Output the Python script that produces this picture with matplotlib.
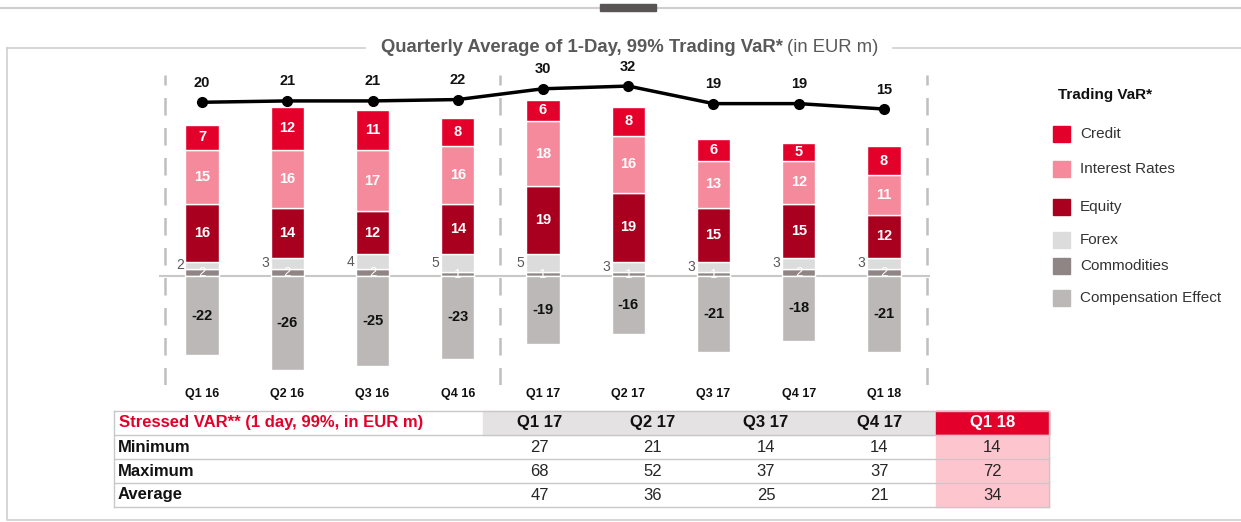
import matplotlib.pyplot as plt
from matplotlib.patches import Rectangle

plt.rcParams['font.family'] = ['Liberation Sans', 'DejaVu Sans']

quarters = ["Q1 16", "Q2 16", "Q3 16", "Q4 16", "Q1 17", "Q2 17", "Q3 17", "Q4 17", "Q1 18"]
commodities = [2, 2, 2, 1, 1, 1, 1, 2, 2]
forex = [2, 3, 4, 5, 5, 3, 3, 3, 3]
equity = [16, 14, 12, 14, 19, 19, 15, 15, 12]
interest = [15, 16, 17, 16, 18, 16, 13, 12, 11]
credit = [7, 12, 11, 8, 6, 8, 6, 5, 8]
compensation = [-22, -26, -25, -23, -19, -16, -21, -18, -21]
total_var = [20, 21, 21, 22, 30, 32, 19, 19, 15]

stress_quarters = ["Q1 17", "Q2 17", "Q3 17", "Q4 17", "Q1 18"]
stress_rows = ["Minimum", "Maximum", "Average"]
stress_min = [27, 21, 14, 14, 14]
stress_max = [68, 52, 37, 37, 72]
stress_avg = [47, 36, 25, 21, 34]

c_credit = "#e3002a"
c_interest = "#f48a9b"
c_equity = "#a8001e"
c_forex = "#dcdcdc"
c_comm = "#8f8585"
c_comp = "#bdb8b8"
c_grid = "#c8c8c8"

W, H = 1241, 522
fig = plt.figure(figsize=(W / 100, H / 100), dpi=100)

# background / frame axes in pixel coordinates
bg = fig.add_axes([0, 0, 1, 1])
bg.set_xlim(0, W)
bg.set_ylim(H, 0)
bg.axis("off")

bg.plot([0, W], [8, 8], color="#cfcfcf", lw=1.5)
bg.add_patch(Rectangle((600, 4), 56, 7, color="#5a5555", zorder=3))
bg.plot([7, 365], [47.5, 47.5], color="#cfcfcf", lw=1.2)
bg.plot([893, W], [47.5, 47.5], color="#cfcfcf", lw=1.2)
bg.plot([7, 7, W], [47.5, 520, 520], color="#cfcfcf", lw=1.2)
bg.text(783, 48, "Quarterly Average of 1-Day, 99% Trading VaR*", ha="right", va="center",
        fontsize=13.3, fontweight="bold", color="#595959")
bg.text(787, 48, "(in EUR m)", ha="left", va="center", fontsize=13.3, color="#595959")

# legend
bg.text(1058, 95, "Trading VaR*", ha="left", va="center", fontsize=11, fontweight="bold", color="#111111")
leg = [("Credit", c_credit, 134), ("Interest Rates", c_interest, 169), ("Equity", c_equity, 207),
       ("Forex", c_forex, 240), ("Commodities", c_comm, 266), ("Compensation Effect", c_comp, 298)]
for name, col, yy in leg:
    bg.add_patch(Rectangle((1053, yy - 8), 17, 16, color=col))
    bg.text(1080, yy, name, ha="left", va="center", fontsize=11, color="#333333")

# stressed VaR table
tx0, tx1 = 114, 1049
col_w = 113.2
cx0 = 483
rows_y = [411, 435, 459, 483, 507]
bg.add_patch(Rectangle((cx0, rows_y[0]), col_w * 4, rows_y[1] - rows_y[0], color="#e4e2e2"))
bg.add_patch(Rectangle((cx0 + col_w * 4, rows_y[0]), col_w, rows_y[1] - rows_y[0], color=c_credit))
bg.add_patch(Rectangle((cx0 + col_w * 4, rows_y[1]), col_w, rows_y[4] - rows_y[1], color="#fdc6cf"))
for yy in rows_y:
    bg.plot([tx0, tx1], [yy, yy], color="#c8c8c8", lw=1)
bg.plot([tx0, tx0], [rows_y[0], rows_y[4]], color="#c8c8c8", lw=1)
bg.plot([tx1, tx1], [rows_y[0], rows_y[4]], color="#c8c8c8", lw=1)

bg.text(119, (rows_y[0] + rows_y[1]) / 2, "Stressed VAR** (1 day, 99%, in EUR m)", ha="left", va="center",
        fontsize=12, fontweight="bold", color=c_credit)
for i, q in enumerate(stress_quarters):
    cx = cx0 + col_w * (i + 0.5)
    bg.text(cx, (rows_y[0] + rows_y[1]) / 2, q, ha="center", va="center", fontsize=12, fontweight="bold",
            color="white" if i == len(stress_quarters) - 1 else "#111111")
for r, (name, vals) in enumerate(zip(stress_rows, [stress_min, stress_max, stress_avg])):
    yc = (rows_y[r + 1] + rows_y[r + 2]) / 2
    bg.text(118, yc, name, ha="left", va="center", fontsize=12, fontweight="bold", color="#111111")
    for i, v in enumerate(vals):
        bg.text(cx0 + col_w * (i + 0.5), yc, str(v), ha="center", va="center", fontsize=12, color="#262626")

# main bar chart
ax = fig.add_axes([159.4 / W, (H - 385) / H, 770.6 / W, 315 / H])
ax.set_facecolor("none")
x = list(range(len(quarters)))
bw = 0.39
ek = dict(edgecolor="white", linewidth=1)

b1 = commodities
b2 = [a + b for a, b in zip(b1, forex)]
b3 = [a + b for a, b in zip(b2, equity)]
b4 = [a + b for a, b in zip(b3, interest)]
ax.bar(x, commodities, bw, color=c_comm, **ek)
ax.bar(x, forex, bw, bottom=b1, color=c_forex, **ek)
ax.bar(x, equity, bw, bottom=b2, color=c_equity, **ek)
ax.bar(x, interest, bw, bottom=b3, color=c_interest, **ek)
ax.bar(x, credit, bw, bottom=b4, color=c_credit, **ek)
ax.bar(x, compensation, bw, color=c_comp, **ek)

for i in x:
    ax.text(i, b2[i] + equity[i] / 2, str(equity[i]), ha="center", va="center", color="white",
            fontsize=10.5, fontweight="bold")
    ax.text(i, b3[i] + interest[i] / 2, str(interest[i]), ha="center", va="center", color="white",
            fontsize=10.5, fontweight="bold")
    ax.text(i, b4[i] + credit[i] / 2, str(credit[i]), ha="center", va="center", color="white",
            fontsize=10.5, fontweight="bold")
    ax.text(i - bw / 2 - 0.02, b1[i] + forex[i] / 2, str(forex[i]), ha="right", va="center",
            color="#595959", fontsize=10)
    ax.text(i, commodities[i] / 2 - 0.3, str(commodities[i]), ha="center", va="center", color="white",
            fontsize=9.5)
    ax.text(i, compensation[i] / 2, str(compensation[i]), ha="center", va="center", color="#111111",
            fontsize=10.5, fontweight="bold")

ax.axhline(0, color=c_grid, lw=1.5, zorder=0.5)
for xv in [-0.44, 3.5, 8.5]:
    ax.axvline(xv, ymin=0, ymax=0.985, color="#bfbfbf", lw=1.8, dashes=(7, 5))

ax.set_xlim(-0.5, 8.54)
ax.set_ylim(-30.3, 57.2)
ax.set_xticks(x)
ax.set_xticklabels(quarters, fontsize=9, fontweight="bold", color="#111111")
ax.tick_params(axis="x", length=0, pad=2)
ax.set_yticks([])
for s in ax.spines.values():
    s.set_visible(False)

ax2 = ax.twinx()
ax2.plot(x, total_var, color="black", lw=2.5, marker="o", markersize=7)
for i, v in enumerate(total_var):
    ax2.annotate(str(v), (i, v), xytext=(0, 9), textcoords="offset points", ha="center", va="bottom",
                 fontsize=10.5, fontweight="bold", color="#111111")
ax2.set_ylim(-189.4, 43.9)
ax2.set_yticks([])
for s in ax2.spines.values():
    s.set_visible(False)

fig.savefig("out.png", dpi=100)
